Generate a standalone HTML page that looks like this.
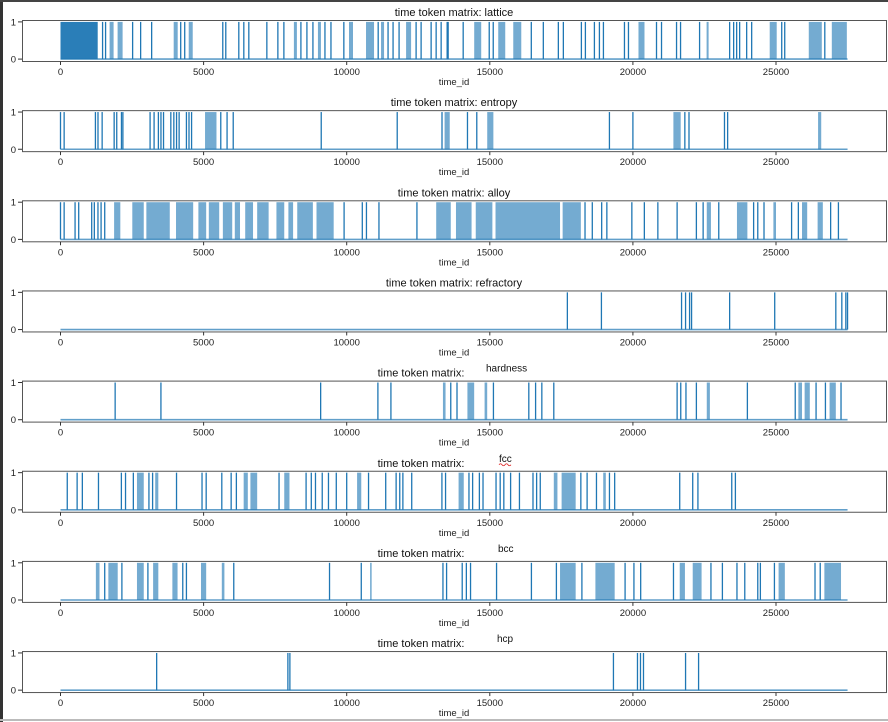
<!DOCTYPE html>
<html><head><meta charset="utf-8">
<style>
html,body{margin:0;padding:0;background:#fff;}
body{width:888px;height:722px;overflow:hidden;position:relative;font-family:"Liberation Sans",sans-serif;}
svg{position:absolute;left:0;top:0;}
</style></head>
<body>
<svg id="chart" width="888" height="722" xmlns="http://www.w3.org/2000/svg">
<rect x="0" y="0" width="888" height="722" fill="#fff"/>
<rect x="0" y="0" width="3" height="722" fill="#333"/>
<rect x="0" y="0" width="888" height="2" fill="#444"/>
<rect x="0" y="719" width="888" height="2" fill="#bbb"/>
</svg>
<script>
const rowNames = ["lattice","entropy","alloy","refractory","hardness","fcc","bcc","hcp"];
const xTicks = [0,5000,10000,15000,20000,25000];
const xTickLabels = ["0","5000","10000","15000","20000","25000"];
const yTicks = [0,1];
const seriesEnd = 27500;

const spikes_lattice = [1470,1575,2520,2800,3185,4200,4340,5670,5775,6230,6405,6580,7210,7595,7805,8400,8610,8820,9240,9450,9900,11100,11445,11620,11830,12425,12600,12950,13125,13300,13510,13545,14070,14980,15120,16450,16870,17395,17570,18200,18340,18655,18830,18970,19705,19845,20825,21000,21525,21665,22330,23380,23520,23625,23730,23975,24150,25200,25305,26705];
const bands_lattice = [[0,1300],[1715,1855],[1995,2170],[3955,4095],[4480,4620],[8155,8260],[8995,9100],[10080,10220],[10675,10955],[11200,11305],[12075,12250],[14455,14700],[15295,15540],[15820,16100],[20195,20405],[22575,22645],[24780,25025],[26145,26600],[26950,27475]];

const spikes_entropy = [0,127,1220,1310,1455,1875,1965,2130,2180,3130,3270,3420,3510,3600,3855,3960,4055,4145,4400,4490,4580,5600,5820,6035,9110,11765,13330,14220,14545,19180,20000,21815,21960,23200,23310];
const bands_entropy = [[5050,5450],[13420,13600],[14910,15125],[21415,21670],[26470,26580]];

const spikes_alloy = [0,127,509,636,1090,1182,1309,1418,1545,9909,10545,10690,11127,12454,18327,18581,18909,19090,19963,20400,20872,21545,22218,22454,23000,24218,24363,24581,25545,25781,26909,27181];
const bands_alloy = [[1873,2090],[2509,2909],[3000,3818],[4036,4636],[4818,5090],[5182,5545],[5673,6000],[6090,6272],[6454,6727],[6872,7272],[7545,7818],[7963,8127],[8272,8818],[8945,9545],[13127,13636],[13818,14363],[14509,15090],[15200,17454],[17545,18181],[22581,22727],[23636,24000],[24909,25000],[25909,26090],[26454,26636]];

const spikes_refractory = [17710,18900,21700,21840,21980,22050,23380,24955,27090,27300,27440,27500];
const bands_refractory = [];

const spikes_hardness = [1909,3509,9090,11090,11545,13636,13854,15127,16363,16600,16818,17236,21545,21672,21854,22218,24000,25672,26400,26727,27272];
const bands_hardness = [[13363,13454],[14218,14454],[14818,14909],[22581,22690],[25781,25909],[26000,26181],[26872,27090]];

const spikes_fcc = [236,581,763,1327,2127,2272,2545,3090,3218,4054,4945,5090,5636,5963,6145,7636,8581,8763,8909,9145,9363,9636,10000,10763,11363,11727,11854,11963,12272,13327,13454,14272,14400,14636,14763,15218,15363,15490,15727,16036,16509,16636,16763,18181,18400,18727,19181,19363,21636,22090,22272,23454,23581];
const bands_fcc = [[2672,2909],[3309,3418],[6400,6545],[6636,6872],[7818,8000],[10363,10509],[13909,14090],[17236,17363],[17509,18000],[18963,19054]];

const spikes_bcc = [1545,2145,3054,4272,4400,6054,9400,10509,13363,13490,14036,14181,14327,15236,16454,17327,18218,19727,20036,20272,21418,22727,23127,23636,23909,24363,24454,24945,26363,26545];
const bands_bcc = [[1236,1363],[1672,1999],[2672,2909],[3236,3418],[3909,4090],[4909,5090],[5636,5727],[10818,10872],[17454,18000],[18690,19363],[21636,21818],[22090,22400],[25090,25309],[26690,27272]];

const spikes_hcp = [3360,7945,8015,19320,20160,20265,20370,21840,22295];
const bands_hcp = [];

const allSpikes = [spikes_lattice,spikes_entropy,spikes_alloy,spikes_refractory,spikes_hardness,spikes_fcc,spikes_bcc,spikes_hcp];
const allBands = [bands_lattice,bands_entropy,bands_alloy,bands_refractory,bands_hardness,bands_fcc,bands_bcc,bands_hcp];

const NS = "http://www.w3.org/2000/svg";
const svg = document.getElementById("chart");
const BOX_L = 22, BOX_R = 887, BOX_H = 41, TOP0 = 20, PITCH = 90.15;
const COLOR = "#1f77b4";
function xs(t){ return 60.5 + t * 0.02862; }
function mk(tag, attrs, parent){ const e = document.createElementNS(NS, tag); for (const k in attrs) e.setAttribute(k, attrs[k]); (parent||svg).appendChild(e); return e; }

rowNames.forEach((name, i) => {
  const top = TOP0 + PITCH * i;
  const ys = v => top + BOX_H - 1.9 - v * (BOX_H - 3.8);
  const g = mk("g", {});
  
  

  allBands[i].forEach((b, k) => {
    const w = xs(b[1]) - xs(b[0]);
    const op = (i === 0 && k === 0) ? 0.95 : 0.62;
    const r = mk("rect", {x: xs(b[0]), y: ys(1), width: Math.max(1, w), height: ys(0) - ys(1), fill: COLOR, opacity: op}, g);
    
    
  });
  allSpikes[i].forEach(t => {
    const l = mk("line", {x1: xs(t), x2: xs(t), y1: ys(0), y2: ys(1), stroke: COLOR, "stroke-width": 1.3}, g);
    
    
  });
  const base = mk("line", {x1: xs(0), x2: xs(seriesEnd), y1: ys(0), y2: ys(0), stroke: COLOR, "stroke-width": 1.6, opacity: 0.7}, g);
  
  

  const box = mk("rect", {x: BOX_L + 0.5, y: top + 0.5, width: BOX_R - BOX_L - 1, height: BOX_H, fill: "none", stroke: "#555", "stroke-width": 1}, g);
  
  

  yTicks.forEach(v => {
    const tk = mk("line", {x1: BOX_L - 4, x2: BOX_L, y1: ys(v), y2: ys(v), stroke: "#333", "stroke-width": 1}, g);
    
    
    const tl = mk("text", {x: BOX_L - 6, y: ys(v) + 3.5, "font-size": 9.5, "text-anchor": "end", fill: "#222"}, g);
    tl.textContent = String(v);
    
    
  });
  xTicks.forEach((v, k) => {
    const tk = mk("line", {x1: xs(v), x2: xs(v), y1: top + BOX_H + 0.5, y2: top + BOX_H + 4, stroke: "#333", "stroke-width": 1}, g);
    
    
    const tl = mk("text", {x: xs(v), y: top + BOX_H + 14, "font-size": 9.5, "text-anchor": "middle", fill: "#222"}, g);
    tl.textContent = xTickLabels[k];
    
    
  });
  const xl = mk("text", {x: 454, y: top + BOX_H + 24, "font-size": 9.5, "text-anchor": "middle", fill: "#222"}, g);
  xl.textContent = "time_id";
  
  

  if (i < 4) {
    const tt = mk("text", {x: 454, y: top - 4, "font-size": 11, "text-anchor": "middle", fill: "#111"}, g);
    tt.textContent = "time token matrix: " + name;
    
    
  } else {
    const tt = mk("text", {x: 421, y: top - 4, "font-size": 11, "text-anchor": "middle", fill: "#111"}, g);
    tt.textContent = "time token matrix:";
    
    
    const wx = {hardness: 486, fcc: 499, bcc: 498, hcp: 497}[name];
    const tw = mk("text", {x: wx, y: top - 9, "font-size": 10, fill: "#111"}, g);
    tw.textContent = name;
    
    
    if (name === "fcc") {
      const sq = mk("path", {d: "M499 " + (top - 6) + " q1.5 -2 3 0 t3 0 t3 0 t3 0", stroke: "#d22", fill: "none", "stroke-width": 0.8}, g);
      
      
    }
  }
});
</script>
</body></html>
